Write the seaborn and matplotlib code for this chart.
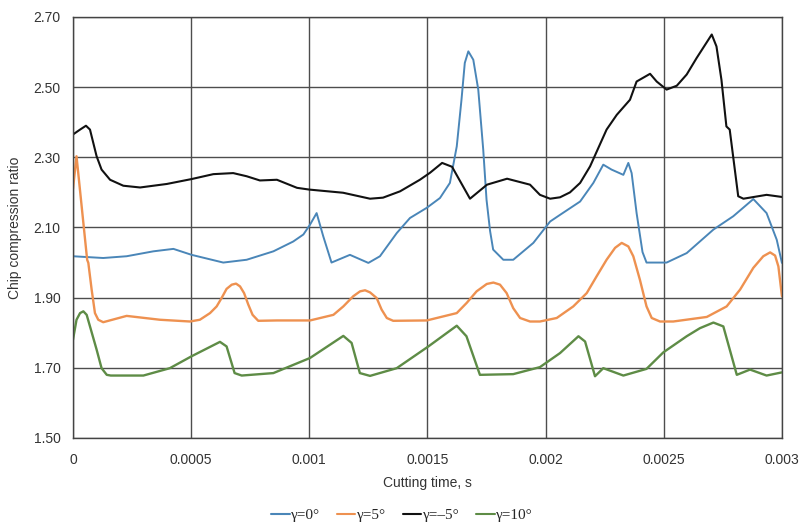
### Chip compression ratio vs cutting time ###
import matplotlib
matplotlib.use("Agg")
import matplotlib.pyplot as plt
import seaborn as sns
import numpy as np
import pandas as pd

# time in ms (converted to s below)
t_g0 = [0, 0.128, 0.227, 0.340, 0.425, 0.502, 0.636, 0.735, 0.848, 0.932, 0.975, 1.003, 1.031,
        1.059, 1.094, 1.172, 1.250, 1.299, 1.370, 1.426, 1.497, 1.553, 1.595, 1.624, 1.644, 1.658,
        1.673, 1.694, 1.715, 1.736, 1.750, 1.765, 1.778, 1.821, 1.863, 1.948, 2.019, 2.061, 2.146,
        2.202, 2.244, 2.279, 2.329, 2.350, 2.364, 2.385, 2.410, 2.427, 2.512, 2.597, 2.710, 2.794,
        2.879, 2.935, 2.978, 3.0]
v_g0 = [2.018, 2.013, 2.018, 2.032, 2.039, 2.022, 2.000, 2.008, 2.032, 2.060, 2.080, 2.108, 2.141,
        2.075, 2.000, 2.022, 1.999, 2.018, 2.084, 2.127, 2.156, 2.184, 2.227, 2.331, 2.464, 2.569,
        2.602, 2.578, 2.493, 2.322, 2.179, 2.090, 2.037, 2.008, 2.008, 2.056, 2.117, 2.136, 2.174,
        2.227, 2.279, 2.265, 2.250, 2.284, 2.255, 2.141, 2.030, 2.000, 2.000, 2.027, 2.094, 2.132,
        2.181, 2.141, 2.065, 1.999]

t_g5 = [0, 0.015, 0.060, 0.065, 0.079, 0.093, 0.107, 0.128, 0.227, 0.368, 0.495, 0.537, 0.580,
        0.608, 0.629, 0.650, 0.672, 0.690, 0.707, 0.724, 0.742, 0.760, 0.784, 0.862, 1.003, 1.102,
        1.144, 1.186, 1.215, 1.236, 1.257, 1.285, 1.306, 1.328, 1.355, 1.497, 1.624, 1.666, 1.708,
        1.751, 1.779, 1.807, 1.835, 1.863, 1.892, 1.934, 1.976, 2.047, 2.117, 2.174, 2.216, 2.258,
        2.294, 2.322, 2.350, 2.371, 2.399, 2.427, 2.449, 2.484, 2.540, 2.682, 2.766, 2.823, 2.879,
        2.921, 2.950, 2.971, 2.985, 3.0]
v_g5 = [2.210, 2.303, 2.008, 1.999, 1.923, 1.856, 1.837, 1.830, 1.848, 1.837, 1.832, 1.837, 1.856,
        1.875, 1.899, 1.925, 1.937, 1.940, 1.932, 1.913, 1.880, 1.851, 1.834, 1.835, 1.835, 1.851,
        1.875, 1.904, 1.918, 1.921, 1.915, 1.899, 1.866, 1.842, 1.834, 1.835, 1.856, 1.885, 1.918,
        1.939, 1.943, 1.937, 1.913, 1.870, 1.842, 1.832, 1.832, 1.842, 1.875, 1.913, 1.961, 2.008,
        2.042, 2.056, 2.046, 2.018, 1.951, 1.875, 1.842, 1.832, 1.832, 1.845, 1.875, 1.923, 1.985,
        2.018, 2.029, 2.020, 1.989, 1.904]

t_gm5 = [0, 0.030, 0.055, 0.072, 0.086, 0.100, 0.121, 0.157, 0.213, 0.284, 0.397, 0.502, 0.594,
         0.678, 0.735, 0.791, 0.863, 0.948, 1.000, 1.143, 1.257, 1.312, 1.384, 1.468, 1.511, 1.562,
         1.604, 1.680, 1.752, 1.837, 1.934, 1.976, 2.019, 2.061, 2.103, 2.146, 2.188, 2.258, 2.301,
         2.357, 2.385, 2.442, 2.470, 2.512, 2.555, 2.597, 2.639, 2.703, 2.723, 2.744, 2.765, 2.779,
         2.815, 2.837, 2.935, 3.0]
v_gm5 = [2.365, 2.379, 2.390, 2.379, 2.341, 2.303, 2.265, 2.236, 2.219, 2.214, 2.224, 2.238, 2.252,
         2.255, 2.246, 2.234, 2.236, 2.213, 2.208, 2.199, 2.182, 2.185, 2.203, 2.236, 2.256, 2.284,
         2.273, 2.182, 2.222, 2.239, 2.222, 2.193, 2.182, 2.186, 2.200, 2.227, 2.274, 2.379, 2.421,
         2.464, 2.516, 2.538, 2.516, 2.493, 2.504, 2.536, 2.583, 2.650, 2.616, 2.521, 2.388, 2.379,
         2.189, 2.182, 2.193, 2.187]

t_g10 = [0, 0.015, 0.030, 0.044, 0.058, 0.072, 0.100, 0.121, 0.143, 0.160, 0.298, 0.410, 0.502,
         0.622, 0.650, 0.684, 0.714, 0.848, 1.003, 1.144, 1.179, 1.214, 1.257, 1.370, 1.504, 1.624,
         1.665, 1.722, 1.863, 1.976, 2.061, 2.139, 2.167, 2.209, 2.244, 2.329, 2.427, 2.498, 2.597,
         2.653, 2.710, 2.752, 2.809, 2.865, 2.935, 3.0]
v_g10 = [1.780, 1.837, 1.856, 1.861, 1.851, 1.818, 1.752, 1.699, 1.680, 1.678, 1.678, 1.699, 1.733,
         1.774, 1.761, 1.685, 1.678, 1.685, 1.728, 1.791, 1.771, 1.685, 1.677, 1.699, 1.761, 1.820,
         1.790, 1.680, 1.682, 1.702, 1.742, 1.790, 1.775, 1.676, 1.699, 1.678, 1.697, 1.744, 1.790,
         1.813, 1.829, 1.818, 1.680, 1.695, 1.678, 1.687]

labels = ["γ=0°", "γ=5°", "γ=–5°", "γ=10°"]
colors = ["#4a86b8", "#ee9150", "#111111", "#5e8c46"]
widths = [1.4, 1.7, 1.5, 1.7]
x_ticks = [0, 0.0005, 0.001, 0.0015, 0.002, 0.0025, 0.003]
x_ticklabels = ["0", "0.0005", "0.001", "0.0015", "0.002", "0.0025", "0.003"]
y_ticks = [1.50, 1.70, 1.90, 2.10, 2.30, 2.50, 2.70]

frames = []
for lab, t, v in zip(labels, [t_g0, t_g5, t_gm5, t_g10], [v_g0, v_g5, v_gm5, v_g10]):
    frames.append(pd.DataFrame({"t": np.array(t) * 1e-3, "v": v, "series": lab}))
df = pd.concat(frames, ignore_index=True)

sns.set_style("white")
plt.rcParams["font.family"] = ["Liberation Sans", "DejaVu Sans"]

fig = plt.figure(figsize=(8.01, 5.30), dpi=100)
ax = fig.add_axes([0.0911, 0.1736, 0.8851, 0.7944])

sns.lineplot(data=df, x="t", y="v", hue="series", hue_order=labels,
             palette=dict(zip(labels, colors)), sort=False, estimator=None,
             linewidth=1.5, ax=ax, legend=False)
for line, w in zip(ax.lines, widths):
    line.set_solid_joinstyle("round")
    line.set_linewidth(w)

ax.set_xlim(0, 0.003)
ax.set_ylim(1.5, 2.7)
ax.set_xticks(x_ticks)
ax.set_xticklabels(x_ticklabels)
ax.set_yticks(y_ticks)
ax.set_yticklabels([f"{y:.2f}" for y in y_ticks])
ax.tick_params(length=0, labelsize=10, colors="#333333")
ax.tick_params(axis="x", pad=11)
ax.tick_params(axis="y", pad=9)
ax.grid(True, color="#4d4d4d", linewidth=1.0)
ax.set_axisbelow(True)
for s in ax.spines.values():
    s.set_color("#444444")
    s.set_linewidth(1.0)

ax.set_xlabel("Cutting time, s", fontsize=10, color="#333333", labelpad=6)
ax.set_ylabel("Chip compression ratio", fontsize=10, color="#333333", labelpad=8)

handles = [plt.Line2D([], [], color=c, linewidth=1.5) for c in colors]
fig.legend(handles, labels, loc="center", bbox_to_anchor=(0.502, 0.028), ncol=4,
           frameon=False, handlelength=1.2, handletextpad=0.1, columnspacing=1.1,
           prop={"family": "Liberation Serif", "size": 11})

fig.savefig("out.png", dpi=100)
